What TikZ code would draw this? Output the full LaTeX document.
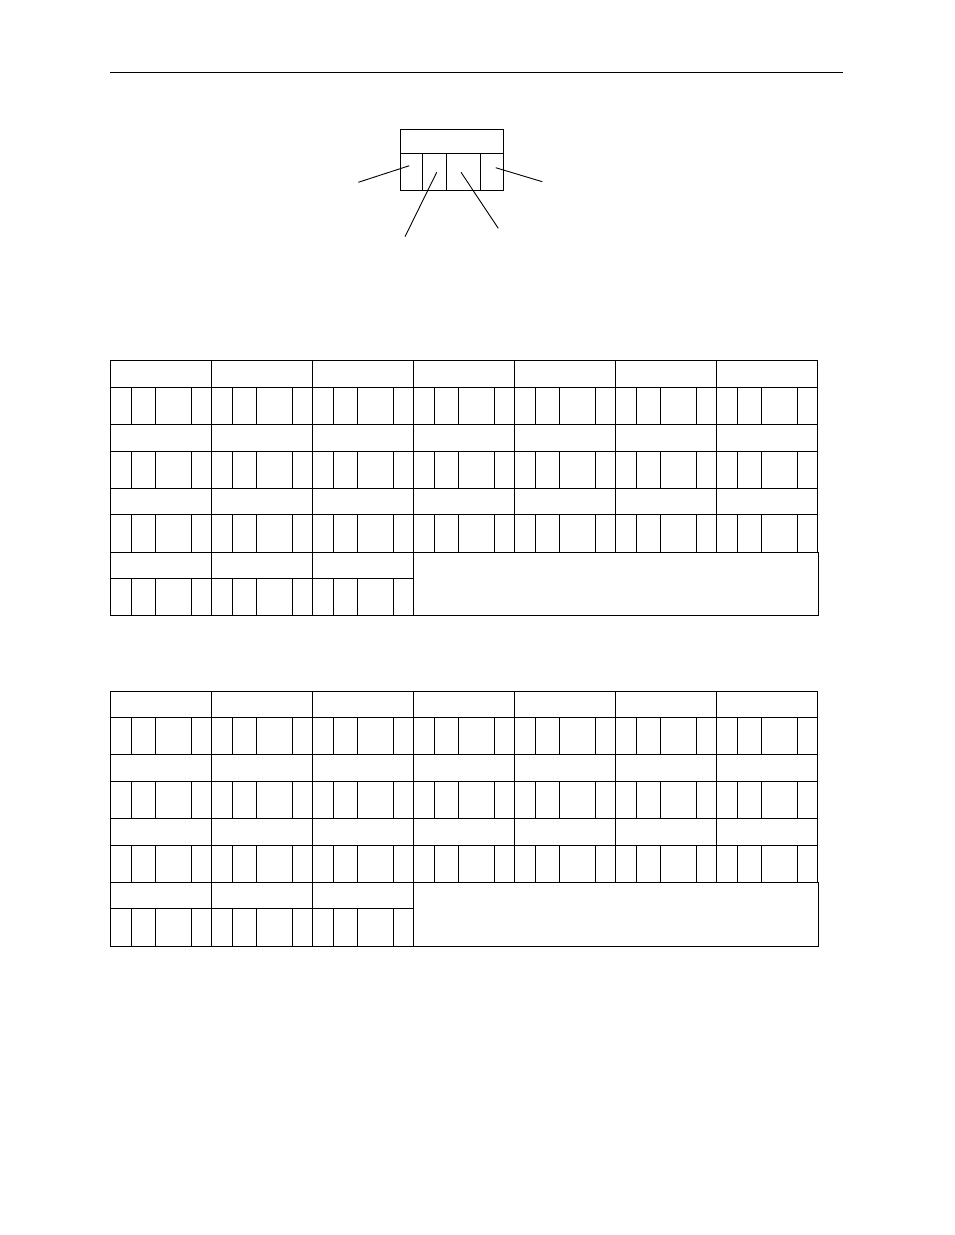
\documentclass[tikz,border=0pt]{standalone}
\usepackage{tikz}
\tikzset{
    rule/.style={line width=1pt},
    leader/.style={line width=0.9pt},
    cellbox/.style={line width=1pt}
}

\begin{document}
\begin{tikzpicture}[x=1pt,y=-1pt]
        \useasboundingbox (0,0) rectangle (954,1235);

        % page rule
        \draw[rule] (110,72) -- (843,72);

        % small key box
        \draw[cellbox] (400,129.3) rectangle (503.3,190.3);
        \draw[cellbox] (400,153.3) -- (503.3,153.3);
        \foreach \kx in {422.3,446.3,480.3}
            \draw[cellbox] (\kx,153.3) -- (\kx,190.3);

        % leader ends
        \coordinate (keyA) at (409.3,165.7);
        \coordinate (keyB) at (436.7,172.3);
        \coordinate (keyC) at (461,172.3);
        \coordinate (keyD) at (495.7,167.7);
        \coordinate (tagA) at (358.3,182.3);
        \coordinate (tagB) at (405,236.7);
        \coordinate (tagC) at (498.3,228.3);
        \coordinate (tagD) at (542.3,181.7);

        % leaders
        \draw[leader] (tagA) -- (keyA);
        \draw[leader] (tagB) -- (keyB);
        \draw[leader] (tagC) -- (keyC);
        \draw[leader] (tagD) -- (keyD);

        % two register tables
        \foreach \ty in {360.7,691} {
            % rows 0..2, seven groups each
            \foreach \r in {0,1,2}
                \foreach \g in {0,...,6} {
                    \pgfmathsetmacro{\gx}{110.3+101*\g}
                    \pgfmathsetmacro{\gy}{\ty+63.8*\r}
                    \draw[cellbox] (\gx,\gy) rectangle ++(101,26.5); % header
                    \draw[cellbox] (\gx,\gy+26.5) rectangle ++(101,37.3); % bits
                    \foreach \sx in {21,45,81.3}
                        \draw[cellbox] (\gx+\sx,\gy+26.5) -- ++(0,37.3);
                }
            % last row, three groups
            \foreach \g in {0,1,2} {
                \pgfmathsetmacro{\gx}{110.3+101*\g}
                \pgfmathsetmacro{\gy}{\ty+191.4}
                \draw[cellbox] (\gx,\gy) rectangle ++(101,26.5); % header
                \draw[cellbox] (\gx,\gy+26.5) rectangle ++(101,37.3); % bits
                \foreach \sx in {21,45,81.3}
                    \draw[cellbox] (\gx+\sx,\gy+26.5) -- ++(0,37.3);
            }
            \draw[cellbox] (413.3,\ty+191.4) rectangle (818.3,\ty+255.2); % empty
        }
\end{tikzpicture}
\end{document}
